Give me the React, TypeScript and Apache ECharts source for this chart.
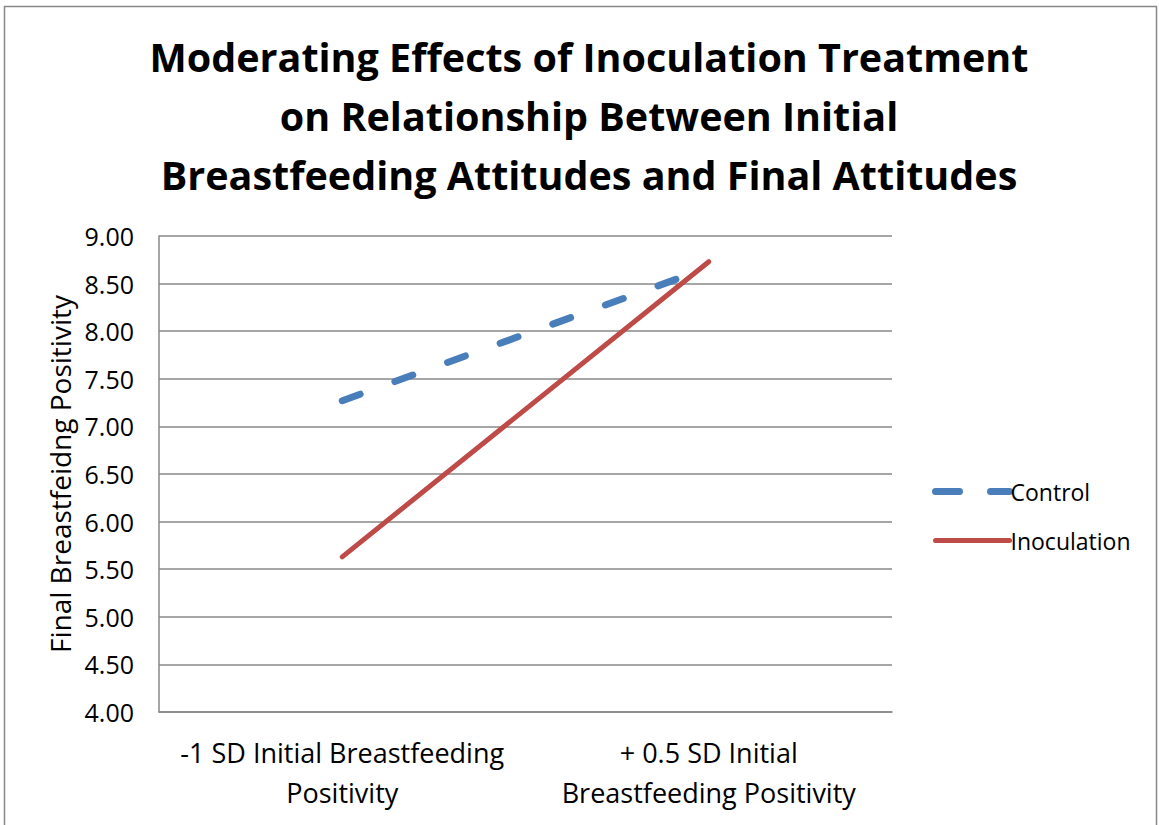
import React, { useEffect, useRef } from "react";
import * as echarts from "echarts";

const categories = [
  "-1 SD Initial Breastfeeding\nPositivity",
  "+ 0.5 SD Initial\nBreastfeeding Positivity",
];
const controlValues = [7.27, 8.67];
const inoculationValues = [5.63, 8.73];
const seriesNames = ["Control", "Inoculation"];
const titleText =
  "Moderating Effects of Inoculation Treatment\non Relationship Between Initial\nBreastfeeding Attitudes and Final Attitudes";
const yAxisName = "Final Breastfeidng Positivity";

const FONT = "'Open Sans', 'Noto Sans', sans-serif";
const BLUE = "#4A7EBB";
const RED = "#BE4B48";

export default function App() {
  const ref = useRef<HTMLDivElement>(null);
  useEffect(() => {
    document.body.style.margin = "0";
    const chart = echarts.init(ref.current!, undefined, { renderer: "svg" });
    chart.setOption({
      animation: false,
      backgroundColor: "#ffffff",
      title: {
        text: titleText,
        left: 584,
        top: 22,
        textAlign: "center",
        textStyle: {
          fontFamily: FONT,
          fontWeight: "bold",
          fontSize: 39.5,
          lineHeight: 59,
          color: "#000",
        },
      },
      graphic: [
        {
          type: "rect",
          shape: { x: 4.5, y: 6.5, width: 1152, height: 840 },
          style: { fill: "none", stroke: "#888", lineWidth: 1.5 },
          silent: true,
        },
      ],
      legend: {
        orient: "vertical",
        left: 927,
        top: 475,
        itemWidth: 74,
        itemHeight: 20,
        itemGap: 26,
        itemStyle: { opacity: 0 },
        data: [
          {
            name: seriesNames[0],
            lineStyle: { color: BLUE, width: 7, type: [24, 31], cap: "round" },
          },
          {
            name: seriesNames[1],
            lineStyle: { color: RED, width: 5, cap: "round" },
          },
        ],
        textStyle: { fontFamily: FONT, fontSize: 23, color: "#000", padding: [0, 0, 0, -4] },
      },
      grid: { left: 159, right: 267, top: 236, bottom: 113 },
      xAxis: {
        type: "category",
        data: categories,
        boundaryGap: true,
        axisLine: { lineStyle: { color: "#888", width: 1.5 } },
        axisTick: { show: false },
        axisLabel: {
          fontFamily: FONT,
          fontSize: 27,
          color: "#000",
          lineHeight: 40,
          margin: 20,
          interval: 0,
        },
      },
      yAxis: {
        type: "value",
        min: 4,
        max: 9,
        interval: 0.5,
        name: yAxisName,
        nameLocation: "middle",
        nameGap: 83,
        nameTextStyle: { fontFamily: FONT, fontSize: 28, color: "#000" },
        axisLine: { show: true, lineStyle: { color: "#888", width: 1.5 } },
        axisTick: { show: false },
        splitLine: { lineStyle: { color: "#888", width: 1.5 } },
        axisLabel: {
          fontFamily: FONT,
          fontSize: 25,
          color: "#000",
          margin: 25,
          formatter: (v: number) => v.toFixed(2),
        },
      },
      series: [
        {
          name: seriesNames[0],
          type: "line",
          data: controlValues,
          symbol: "none",
          color: BLUE,
          lineStyle: { color: BLUE, width: 7, type: [19, 37], cap: "round" },
        },
        {
          name: seriesNames[1],
          type: "line",
          data: inoculationValues,
          symbol: "none",
          color: RED,
          lineStyle: { color: RED, width: 5, cap: "round" },
        },
      ],
    });
    return () => chart.dispose();
  }, []);
  return <div ref={ref} style={{ width: 1159, height: 825 }} />;
}
